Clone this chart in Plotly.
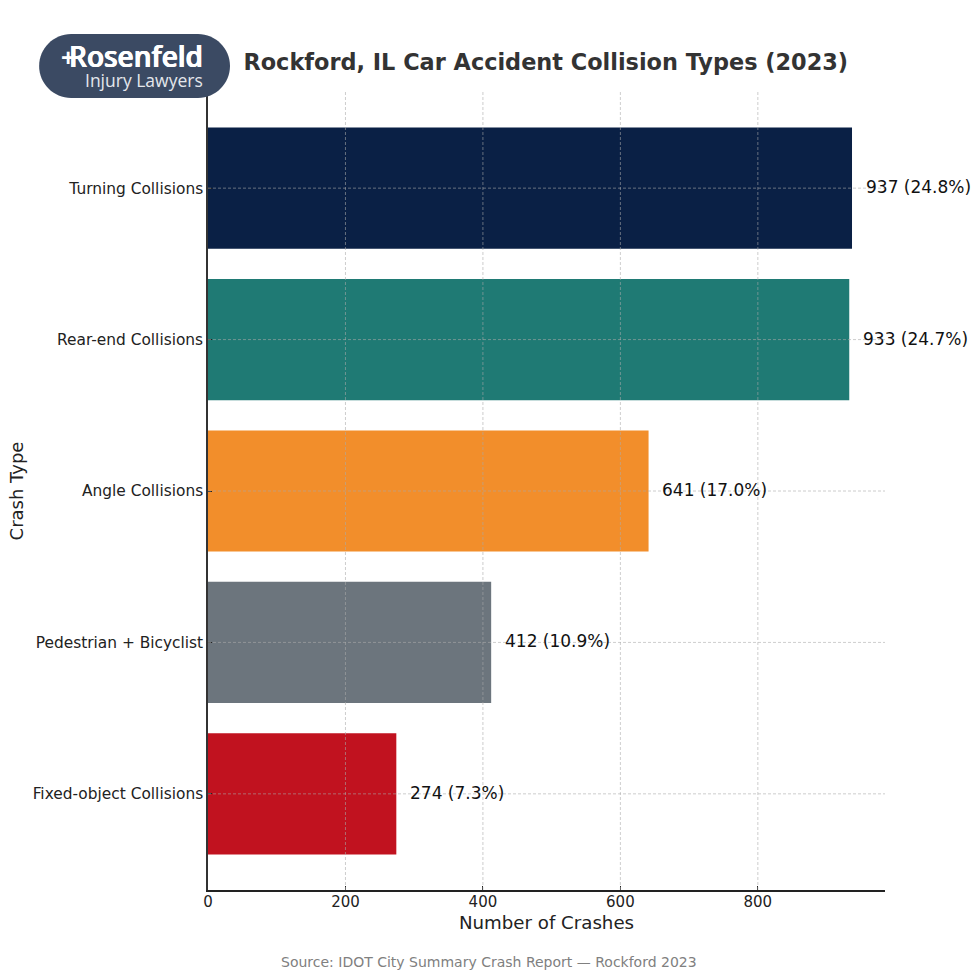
import plotly.graph_objects as go

# crash types, top to bottom
crash_types = ['Turning Collisions', 'Rear-end Collisions', 'Angle Collisions',
               'Pedestrian + Bicyclist', 'Fixed-object Collisions']
crashes = [937, 933, 641, 412, 274]
shares = [24.8, 24.7, 17.0, 10.9, 7.3]
bar_colors = ['#0a2045', '#1f7a74', '#f28e2b', '#6c757d', '#c1121f']
x_ticks = [0, 200, 400, 600, 800]

W = 980
H = 980
L, R, T, B = 208, 94.5, 92, 90
FONT = 'DejaVu Sans'
GRID = dict(color='rgba(170,170,170,0.65)', width=0.9, dash='3px,2px')


# pixel position on the page -> paper coordinates
def px(x):
    return (x - L) / (W - L - R)


def py(y):
    return 1 - (y - T) / (H - T - B)


def pill(x0, y0, x1, y1):
    r = (y1 - y0) / 2
    k = r * 0.55
    pts = [
        ('M', x0 + r, y0), ('L', x1 - r, y0),
        ('C', x1 - r + k, y0, x1, y0 + r - k, x1, y0 + r),
        ('C', x1, y0 + r + k, x1 - r + k, y1, x1 - r, y1),
        ('L', x0 + r, y1),
        ('C', x0 + r - k, y1, x0, y0 + r + k, x0, y0 + r),
        ('C', x0, y0 + r - k, x0 + r - k, y0, x0 + r, y0),
    ]
    path = ''
    for p in pts:
        coords = p[1:]
        pairs = ['{:.5f},{:.5f}'.format(px(coords[i]), py(coords[i + 1]))
                 for i in range(0, len(coords), 2)]
        path += p[0] + ' '.join(pairs) + ' '
    return path + 'Z'


trace = go.Bar(
    x=crashes,
    y=crash_types,
    orientation='h',
    width=0.8,
    marker=dict(color=bar_colors, line=dict(width=0)),
    hoverinfo='skip',
)

# grid sits on top of the bars in the original, so shapes instead of axis grid
shapes = []
for t in x_ticks[1:]:
    shapes.append(dict(type='line', xref='x', yref='paper', x0=t, x1=t, y0=0, y1=1,
                       line=GRID, layer='above'))
for c in crash_types:
    shapes.append(dict(type='line', xref='paper', yref='y', x0=0, x1=1, y0=c, y1=c,
                       line=GRID, layer='above'))
# logo
shapes.append(dict(type='path', xref='paper', yref='paper', path=pill(39, 34, 230, 98),
                   fillcolor='#3b4a63', line=dict(width=0), layer='above'))

annotations = []
for name, n, s in zip(crash_types, crashes, shares):
    annotations.append(dict(x=n, y=name, xref='x', yref='y',
                            text='{} ({:.1f}%)'.format(n, s),
                            xanchor='left', yanchor='middle', xshift=11.5, yshift=1,
                            showarrow=False, font=dict(family=FONT, size=17, color='#111111')))

# logo text
annotations.append(dict(x=px(205), y=py(56), xref='paper', yref='paper', text='Rosenfeld',
                        xanchor='right', yanchor='middle', showarrow=False,
                        font=dict(family='Open Sans', size=28, weight=600, color='white',
                                  shadow='0.5px 0 0 white, -0.5px 0 0 white')))
annotations.append(dict(x=px(77), y=py(57), xref='paper', yref='paper', text='<b>+</b>',
                        xanchor='right', yanchor='middle', showarrow=False,
                        font=dict(family='Open Sans', size=25, color='white')))
annotations.append(dict(x=px(205), y=py(80), xref='paper', yref='paper', text='Injury Lawyers',
                        xanchor='right', yanchor='middle', showarrow=False,
                        font=dict(family='Open Sans', size=17.5, color='#e4e7ec')))
# source line
annotations.append(dict(x=px(489), y=py(962), xref='paper', yref='paper',
                        text='Source: IDOT City Summary Crash Report \u2014 Rockford 2023',
                        xanchor='center', yanchor='middle', showarrow=False,
                        font=dict(family=FONT, size=14, color='#808080')))

layout = go.Layout(
    width=W,
    height=H,
    margin=dict(l=L, r=R, t=T, b=B),
    paper_bgcolor='white',
    plot_bgcolor='white',
    showlegend=False,
    font=dict(family=FONT, color='#222222'),
    title=dict(text='<b>Rockford, IL Car Accident Collision Types (2023)</b>',
               x=243.5 / W, y=1 - 62.5 / H, xref='container',
               xanchor='left', yanchor='middle',
               font=dict(family=FONT, size=22.4, color='#333333')),
    xaxis=dict(range=[0, 985], tickvals=x_ticks, showgrid=False, zeroline=False,
               ticks='inside', ticklen=4, tickcolor='#222222', tickwidth=1,
               ticklabelstandoff=-3,
               showline=True, linecolor='#222222', linewidth=1.5,
               tickfont=dict(size=15),
               title=dict(text='Number of Crashes', font=dict(size=18.2), standoff=7)),
    yaxis=dict(categoryorder='array', categoryarray=crash_types, range=[4.635, -0.635],
               showgrid=False, zeroline=False,
               ticks='inside', ticklen=4, tickcolor='#222222', tickwidth=1,
               showline=True, linecolor='#333333', linewidth=1.5,
               tickfont=dict(size=15.4),
               title=dict(text='Crash Type', font=dict(size=18), standoff=4)),
    shapes=shapes,
    annotations=annotations,
)

fig = go.Figure(data=[trace], layout=layout)
# default body margin would push the chart 8px off
fig.write_html("out.html", config=dict(displayModeBar=False),
               post_script="document.body.style.margin='0';window.dispatchEvent(new Event('resize'));")
